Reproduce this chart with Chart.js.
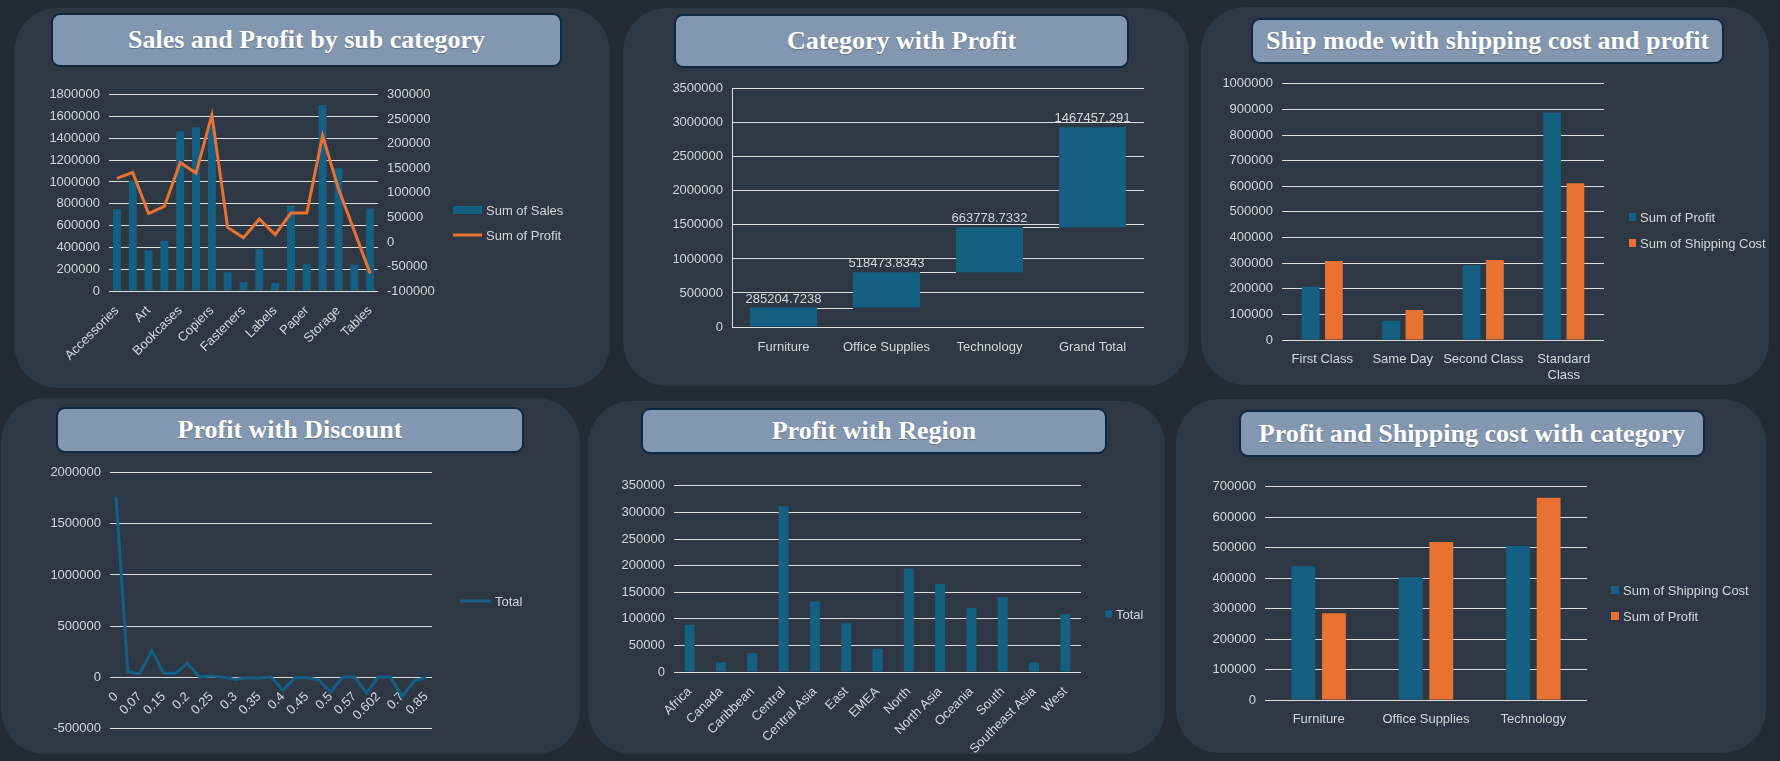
<!DOCTYPE html>
<html>
<head>
<meta charset="utf-8">
<script src="https://cdn.jsdelivr.net/npm/chart.js@4.4.1/dist/chart.umd.min.js"></script>
<style>
html, body { margin: 0; padding: 0; width: 1780px; height: 761px; overflow: hidden; background: #232a33; }
.panel { position: absolute; background: #2e3744; border-radius: 44px; }
.title { position: absolute; box-sizing: border-box; background: #8497b0; border: 2px solid #0e2841; border-radius: 9px;
  color: #fff; font: bold 26px "Liberation Serif", serif; display: flex; align-items: center; justify-content: center;
  text-shadow: 0 1px 1px rgba(0,0,0,0.25); }
.box { position: absolute; }
</style>
</head>
<body>
<div class="panel" style="left:14px;top:8px;width:596px;height:380px"></div>
<div class="panel" style="left:623px;top:8px;width:566px;height:378px"></div>
<div class="panel" style="left:1201px;top:7px;width:568px;height:378px"></div>
<div class="panel" style="left:1px;top:398px;width:579px;height:356px"></div>
<div class="panel" style="left:588px;top:401px;width:577px;height:353px"></div>
<div class="panel" style="left:1176px;top:399px;width:590px;height:354px"></div>

<div class="title" style="left:51px;top:13px;width:511px;height:54px">Sales and Profit by sub category</div>
<div class="title" style="left:674px;top:14px;width:455px;height:54px">Category with Profit</div>
<div class="title" style="left:1251px;top:18px;width:473px;height:46px">Ship mode with shipping cost and profit</div>
<div class="title" style="left:56px;top:407px;width:468px;height:46px">Profit with Discount</div>
<div class="title" style="left:641px;top:408px;width:466px;height:46px">Profit with Region</div>
<div class="title" style="left:1239px;top:410px;width:466px;height:47px">Profit and Shipping cost with category</div>

<div class="box" style="left:48px;top:78px;width:526px;height:287px"><canvas id="subChart"></canvas></div>
<div class="box" style="left:668px;top:72px;width:482px;height:285px"><canvas id="catChart"></canvas></div>
<div class="box" style="left:1220px;top:67px;width:559px;height:321px"><canvas id="shipChart"></canvas></div>
<div class="box" style="left:49px;top:456px;width:492px;height:289px"><canvas id="discChart"></canvas></div>
<div class="box" style="left:619px;top:469px;width:546px;height:289px"><canvas id="regionChart"></canvas></div>
<div class="box" style="left:1210px;top:470px;width:554px;height:260px"><canvas id="catShipChart"></canvas></div>

<script>
// ---- data ----
const subCategories = ['Accessories', 'Appliances', 'Art', 'Binders', 'Bookcases', 'Chairs', 'Copiers', 'Envelopes',
  'Fasteners', 'Furnishings', 'Labels', 'Machines', 'Paper', 'Phones', 'Storage', 'Supplies', 'Tables'];
const subSales = [749237, 1011064, 372092, 461911, 1466572, 1501682, 1509436, 170904,
  83243, 385578, 73404, 779060, 244292, 1706825, 1127086, 243075, 757042];
const subProfit = [129626, 141680, 57953, 72449, 161924, 140396, 258568, 29601,
  8442, 46967, 15010, 58868, 59207, 216717, 108461, 22583, -64083];

const categories = ['Furniture', 'Office Supplies', 'Technology', 'Grand Total'];
const categoryProfit = [285204.7238, 518473.8343, 663778.7332, 1467457.291];

const shipModes = ['First Class', 'Same Day', 'Second Class', ['Standard', 'Class']];
const shipProfit = [208000, 75000, 292000, 888000];
const shipCost = [308000, 117000, 312000, 612000];

const discounts = ['0', '0.002', '0.07', '0.1', '0.15', '0.17', '0.2', '0.202', '0.25', '0.27', '0.3', '0.32', '0.35',
  '0.37', '0.4', '0.402', '0.45', '0.47', '0.5', '0.55', '0.57', '0.6', '0.602', '0.65', '0.7', '0.8', '0.85'];
const discountProfit = [1767000, 55000, 32000, 259000, 39000, 39000, 136000, 2000, 10000, 0, -23000, -6000, -10000,
  0, -130000, -6000, -6000, -26000, -146000, 0, 0, -155000, 0, 0, -188000, -39000, -3000];

const regions = ['Africa', 'Canada', 'Caribbean', 'Central', 'Central Asia', 'East', 'EMEA', 'North', 'North Asia',
  'Oceania', 'South', 'Southeast Asia', 'West'];
const regionProfit = [88871, 17817, 34572, 311403, 132480, 91523, 43898, 194597, 165578, 120089, 140355, 17852, 108418];

const catNames = ['Furniture', 'Office Supplies', 'Technology'];
const catShipping = [439000, 403000, 506000];
const catProfit = [285204.7238, 518473.8343, 663778.7332];

// ---- shared look ----
const BLUE = '#156082';
const ORANGE = '#e97132';
const TEXT = '#d3d7dc';
const GRID = '#dcdcdc';
const FONT = '"Liberation Sans", Arial, sans-serif';

Chart.defaults.font.family = FONT;
Chart.defaults.font.size = 13;
Chart.defaults.color = TEXT;
Chart.defaults.animation = false;
Chart.defaults.plugins.tooltip.enabled = false;
Chart.defaults.plugins.legend.display = false;
Chart.defaults.maintainAspectRatio = false;

const plain = v => String(v);

function yAxis(min, max, step, width, extra) {
  return Object.assign({
    min: min, max: max,
    ticks: { stepSize: step, callback: plain, padding: 9, autoSkip: false },
    grid: { color: GRID, lineWidth: 1, drawTicks: false },
    border: { display: false },
    afterFit: s => { s.width = width; }
  }, extra || {});
}

function xAxis(height, ticks) {
  return {
    grid: { display: false },
    border: { display: false },
    ticks: Object.assign({ padding: 8, maxRotation: 0, autoSkip: false }, ticks || {}),
    afterFit: s => { s.height = height; }
  };
}

function everyOther(v, i) {
  return i % 2 === 0 ? this.getLabelForValue(v) : '';
}

// legend drawn at the right like the spreadsheet one (Chart.js caps side legends at a fraction of the width)
const sideLegend = {
  id: 'sideLegend',
  afterDraw(chart, args, o) {
    const ctx = chart.ctx;
    ctx.save();
    ctx.font = '13px ' + FONT;
    ctx.textBaseline = 'middle';
    ctx.textAlign = 'left';
    chart.data.datasets.forEach((ds, i) => {
      const y = o.y + i * (o.gap || 0);
      if ((ds.type || chart.config.type) === 'line') {
        ctx.strokeStyle = ds.borderColor;
        ctx.lineWidth = ds.borderWidth;
        ctx.beginPath();
        ctx.moveTo(o.x, y);
        ctx.lineTo(o.x + o.w, y);
        ctx.stroke();
      } else {
        ctx.fillStyle = ds.backgroundColor;
        ctx.fillRect(o.x, y - o.h / 2, o.w, o.h);
      }
      ctx.fillStyle = TEXT;
      ctx.fillText(ds.label, o.x + o.w + 4, y + 1);
    });
    ctx.restore();
  }
};
Chart.register(sideLegend);

// 1. Sales and Profit by sub category
new Chart(document.getElementById('subChart'), {
  data: {
    labels: subCategories,
    datasets: [
      { type: 'bar', label: 'Sum of Sales', data: subSales, backgroundColor: BLUE, yAxisID: 'y',
        order: 1, categoryPercentage: 1, barPercentage: 0.5 },
      { type: 'line', label: 'Sum of Profit', data: subProfit, borderColor: ORANGE, backgroundColor: ORANGE,
        borderWidth: 3, pointRadius: 0, yAxisID: 'y1', order: 0 }
    ]
  },
  options: {
    layout: { padding: { right: 139 } },
    plugins: { sideLegend: { x: 405, y: 132, gap: 25, w: 29, h: 8 } },
    scales: {
      x: xAxis(74, { minRotation: 45, maxRotation: 45, padding: 4, callback: everyOther }),
      y: yAxis(0, 1800000, 200000, 61),
      y1: yAxis(-100000, 300000, 50000, 57, { position: 'right', grid: { drawOnChartArea: false, drawTicks: false } })
    }
  }
});

// 2. Category with Profit (waterfall: each bar starts where the previous one ended)
const running = [];
categoryProfit.reduce((acc, v) => { running.push([acc, acc + v]); return acc + v; }, 0);

const waterfall = {
  id: 'waterfall',
  afterDatasetsDraw(chart) {
    const ctx = chart.ctx;
    const bars = chart.getDatasetMeta(0).data;
    const y = chart.scales.y;
    ctx.save();
    ctx.strokeStyle = GRID;
    ctx.lineWidth = 1;
    ctx.fillStyle = TEXT;
    ctx.font = '13px ' + FONT;
    ctx.textAlign = 'center';
    ctx.textBaseline = 'bottom';
    bars.forEach((bar, i) => {
      const top = y.getPixelForValue(running[i][1]);
      if (i < bars.length - 1) {
        const next = bars[i + 1];
        ctx.beginPath();
        ctx.moveTo(bar.x + bar.width / 2, Math.round(top) + 0.5);
        ctx.lineTo(next.x - next.width / 2, Math.round(top) + 0.5);
        ctx.stroke();
      }
      ctx.fillText(String(categoryProfit[i]), bar.x, top - 2);
    });
    ctx.restore();
  }
};

new Chart(document.getElementById('catChart'), {
  type: 'bar',
  data: {
    labels: categories,
    datasets: [{ label: 'Profit', data: running, backgroundColor: BLUE, categoryPercentage: 1, barPercentage: 0.65 }]
  },
  options: {
    layout: { padding: { right: 6 } },
    scales: {
      x: xAxis(30, { padding: 5 }),
      y: yAxis(0, 3500000, 500000, 64, { border: { display: true, color: GRID } })
    }
  },
  plugins: [waterfall]
});

// 3. Ship mode with shipping cost and profit
new Chart(document.getElementById('shipChart'), {
  type: 'bar',
  data: {
    labels: shipModes,
    datasets: [
      { label: 'Sum of Profit', data: shipProfit, backgroundColor: BLUE, categoryPercentage: 0.58, barPercentage: 0.76 },
      { label: 'Sum of Shipping Cost', data: shipCost, backgroundColor: ORANGE, categoryPercentage: 0.58, barPercentage: 0.76 }
    ]
  },
  options: {
    layout: { padding: { right: 175 } },
    plugins: { sideLegend: { x: 409, y: 150, gap: 26, w: 7, h: 8 } },
    scales: {
      x: xAxis(48, { padding: 4 }),
      y: yAxis(0, 1000000, 100000, 62)
    }
  }
});

// 4. Profit with Discount
new Chart(document.getElementById('discChart'), {
  type: 'line',
  data: {
    labels: discounts,
    datasets: [{ label: 'Total', data: discountProfit, borderColor: BLUE, backgroundColor: BLUE, borderWidth: 3,
      pointRadius: 0 }]
  },
  options: {
    layout: { padding: { right: 109 } },
    plugins: { sideLegend: { x: 411, y: 145, w: 31, h: 3 } },
    scales: {
      x: { position: { y: 0 }, offset: true, grid: { display: false }, border: { display: false },
        ticks: { autoSkip: false, minRotation: 45, maxRotation: 45, padding: 4, callback: everyOther } },
      y: yAxis(-500000, 2000000, 500000, 61)
    }
  }
});

// 5. Profit with Region
new Chart(document.getElementById('regionChart'), {
  type: 'bar',
  data: {
    labels: regions,
    datasets: [{ label: 'Total', data: regionProfit, backgroundColor: BLUE, categoryPercentage: 1, barPercentage: 0.32 }]
  },
  options: {
    layout: { padding: { right: 84 } },
    plugins: { sideLegend: { x: 486, y: 145, w: 7, h: 7 } },
    scales: {
      x: xAxis(86, { minRotation: 45, maxRotation: 45, padding: 4 }),
      y: yAxis(0, 350000, 50000, 55)
    }
  }
});

// 6. Profit and Shipping cost with category
new Chart(document.getElementById('catShipChart'), {
  type: 'bar',
  data: {
    labels: catNames,
    datasets: [
      { label: 'Sum of Shipping Cost', data: catShipping, backgroundColor: BLUE, categoryPercentage: 0.57, barPercentage: 0.78 },
      { label: 'Sum of Profit', data: catProfit, backgroundColor: ORANGE, categoryPercentage: 0.57, barPercentage: 0.78 }
    ]
  },
  options: {
    layout: { padding: { right: 177 } },
    plugins: { sideLegend: { x: 401, y: 120, gap: 26, w: 8, h: 8 } },
    scales: {
      x: xAxis(30, { padding: 4 }),
      y: yAxis(0, 700000, 100000, 55)
    }
  }
});
</script>
</body>
</html>
